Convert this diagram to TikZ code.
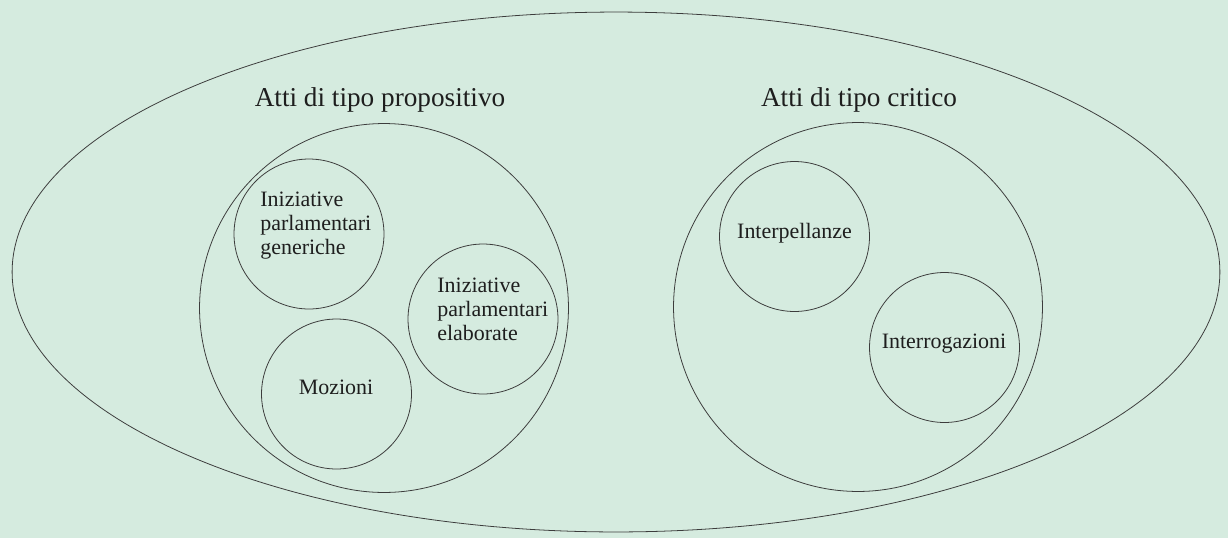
\documentclass[tikz,border=0pt]{standalone}
\usepackage{fontspec}
\setmainfont{Liberation Serif}
\usepackage{xcolor}
\usepackage{tikz}
\usetikzlibrary{positioning,shapes.geometric}
\definecolor{attiBg}{RGB}{213,235,223}
\definecolor{attiLine}{RGB}{60,60,60}
\definecolor{attiText}{RGB}{30,30,30}

\begin{document}
\begin{tikzpicture}[x=0.02cm, y=-0.02cm,
  bubble/.style={draw=attiLine, line width=0.45pt, circle, inner sep=0pt, outer sep=0pt},
  smallbubble/.style={bubble, minimum size=3cm},
  bigbubble/.style={bubble, minimum size=7.38cm},
  voce/.style={text=attiText, inner sep=0pt, font=\fontsize{12.5}{13.7}\selectfont},
  titolo/.style={text=attiText, inner sep=0pt, font=\fontsize{15.5}{18}\selectfont}]
\fill[attiBg] (0,0) rectangle (1228,538);
\useasboundingbox (0,0) rectangle (1228,538);

\node[draw=attiLine, line width=0.45pt, ellipse, inner sep=0pt,
  minimum width=24.16cm, minimum height=10.4cm] (atti) at (616,272) {};

% atti di tipo propositivo
\node[bigbubble] (prop) at (384,308) {};
\node[titolo, anchor=base] (propT) at (380,106) {Atti di tipo propositivo};
\node[smallbubble] (gen) at (309,234) {};
\node[smallbubble] (elab) at (483,319) {};
\node[smallbubble] (moz) at (336.5,394) {};
\node[voce, anchor=west, align=left] (genT) at (260,226) {Iniziative\\parlamentari\\generiche};
\node[voce, anchor=west, align=left] (elabT) at (437,309) {Iniziative\\parlamentari\\elaborate};
\node[voce, anchor=base] (mozT) at (336,394) {Mozioni};

% atti di tipo critico
\node[bigbubble] (crit) at (858,307) {};
\node[titolo, anchor=base] (critT) at (859,106) {Atti di tipo critico};
\node[smallbubble] (interp) at (794.5,236.5) {};
\node[smallbubble] (interr) at (944.5,347.5) {};
\node[voce, anchor=base] (interpT) at (794.5,238) {Interpellanze};
\node[voce, anchor=base] (interrT) at (944,348) {Interrogazioni};
\end{tikzpicture}
\end{document}
